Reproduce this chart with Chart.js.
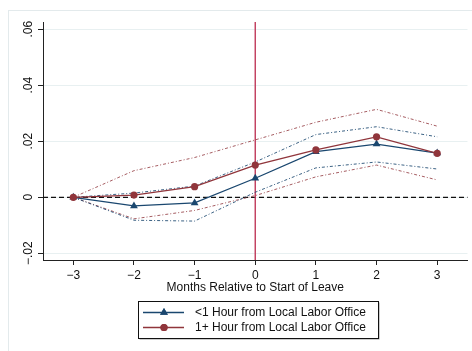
<!DOCTYPE html>
<html>
<head>
<meta charset="utf-8">
<script src="https://cdn.jsdelivr.net/npm/chart.js@4.4.1/dist/chart.umd.min.js"></script>
<style>
  html, body { margin: 0; padding: 0; background: #ffffff; }
  #wrap { width: 472px; height: 351px; position: relative; }
</style>
</head>
<body>
<div id="wrap"><canvas id="eventChart" width="472" height="351"></canvas></div>
<script>
// months relative to start of leave
const months = [-3, -2, -1, 0, 1, 2, 3];

// <1 hour from local labor office (estimate + band)
const nearEst = [0, -0.0031, -0.0020, 0.0068, 0.0163, 0.0190, 0.0158];
const nearHi  = [0,  0.0015,  0.0040, 0.0126, 0.0224, 0.0252, 0.0216];
const nearLo  = [0, -0.0082, -0.0085, 0.0018, 0.0105, 0.0126, 0.0101];

// 1+ hour from local labor office (estimate + band)
const farEst = [0, 0.0008, 0.0038, 0.0115, 0.0169, 0.0216, 0.0157];
const farHi  = [0, 0.0095, 0.0142, 0.0205, 0.0268, 0.0314, 0.0254];
const farLo  = [0, -0.0077, -0.0047, 0.0006, 0.0073, 0.0115, 0.0062];

const seriesLabels = ['<1 Hour from Local Labor Office', '1+ Hour from Local Labor Office'];
const xTicks = [-3, -2, -1, 0, 1, 2, 3];
const yTicks = [-0.02, 0, 0.02, 0.04, 0.06];
const xTitle = 'Months Relative to Start of Leave';

const NAVY = '#1a476f';
const MAROON = '#90353b';
const FONT = "'Liberation Sans', Arial, Helvetica, sans-serif";

function pts(arr) {
    return months.map((m, i) => ({ x: m, y: arr[i] }));
}

function fmtY(v) {
    if (Math.abs(v) < 1e-9) return '0';
    return (v < 0 ? '\u2212' : '') + Math.abs(v).toFixed(2).replace(/^0/, '');
}

// frame, zero line and the x=0 line, drawn under the series
Chart.register({
    id: 'stataBits',
    beforeDraw: (chart) => {
        const c = chart.ctx;
        c.save();
        c.strokeStyle = '#e3eaec';
        c.lineWidth = 1;
        c.strokeRect(8.5, 10.5, 600, 500);
        c.restore();
    },
    beforeDatasetsDraw: (chart) => {
        const c = chart.ctx;
        const a = chart.chartArea;
        const xs = chart.scales.x, ys = chart.scales.y;
        const y0 = ys.getPixelForValue(0);
        const x0 = xs.getPixelForValue(0);
        c.save();
        c.strokeStyle = '#111111';
        c.lineWidth = 1.2;
        c.setLineDash([5, 3]);
        c.beginPath();
        c.moveTo(a.left, y0);
        c.lineTo(a.right, y0);
        c.stroke();
        c.setLineDash([]);
        c.strokeStyle = '#c0395a';
        c.lineWidth = 1.4;
        c.beginPath();
        c.moveTo(x0, a.top);
        c.lineTo(x0, a.bottom);
        c.stroke();
        c.restore();
    },
    afterDraw: (chart) => {
        // legend box
        const c = chart.ctx;
        const bx = 138.5, by = 301.5, bw = 240, bh = 37;
        c.save();
        c.fillStyle = '#9a9a9a';
        c.fillRect(bx + 1, by + 1, bw, bh);
        c.fillStyle = '#ffffff';
        c.fillRect(bx, by, bw, bh);
        c.strokeStyle = '#111111';
        c.lineWidth = 1;
        c.strokeRect(bx, by, bw, bh);
        const rows = [
            { label: seriesLabels[0], color: NAVY, style: 'triangle', r: 4.5, y: 312.5 },
            { label: seriesLabels[1], color: MAROON, style: 'circle', r: 3.6, y: 327.5 }
        ];
        rows.forEach(row => {
            c.strokeStyle = row.color;
            c.lineWidth = 1.3;
            c.beginPath();
            c.moveTo(143, row.y);
            c.lineTo(184, row.y);
            c.stroke();
            c.fillStyle = row.color;
            Chart.helpers.drawPoint(c, { pointStyle: row.style, radius: row.r, borderWidth: 0 }, 164, row.y);
            c.fill();
            c.fillStyle = '#111111';
            c.font = '12px ' + FONT;
            c.textAlign = 'left';
            c.textBaseline = 'middle';
            c.fillText(row.label, 195, row.y + 0.5);
        });
        c.restore();
    }
});

function mainSet(label, arr, color, style, r, order) {
    return {
        label: label,
        data: pts(arr),
        borderColor: color,
        backgroundColor: color,
        borderWidth: 1.3,
        pointStyle: style,
        pointRadius: r,
        pointBorderWidth: 0,
        pointBackgroundColor: color,
        tension: 0,
        order: order
    };
}

function bandSet(arr, color, order) {
    return {
        label: '',
        data: pts(arr),
        borderColor: color,
        borderWidth: 1,
        borderDash: [3, 2, 1, 2],
        pointRadius: 0,
        tension: 0,
        order: order
    };
}

const chart = new Chart(document.getElementById('eventChart').getContext('2d'), {
    type: 'line',
    data: {
        datasets: [
            mainSet(seriesLabels[1], farEst, MAROON, 'circle', 3.6, 0),
            mainSet(seriesLabels[0], nearEst, NAVY, 'triangle', 4.5, 1),
            bandSet(nearHi, 'rgba(26,71,111,0.85)', 2),
            bandSet(nearLo, 'rgba(26,71,111,0.85)', 3),
            bandSet(farHi, 'rgba(144,53,59,0.8)', 4),
            bandSet(farLo, 'rgba(144,53,59,0.8)', 5)
        ]
    },
    options: {
        responsive: false,
        animation: false,
        events: [],
        layout: { padding: { left: 0, right: 1, top: 22, bottom: 0 } },
        plugins: { legend: { display: false }, tooltip: { enabled: false } },
        scales: {
            x: {
                type: 'linear',
                min: -3.5,
                max: 3.5,
                afterBuildTicks: (s) => { s.ticks = xTicks.map(v => ({ value: v })); },
                afterFit: (s) => { s.height = 91; },
                grid: { display: true, drawOnChartArea: false, drawTicks: true, tickLength: 5, tickColor: '#222222', tickWidth: 1 },
                border: { display: true, color: '#222222', width: 1 },
                ticks: {
                    padding: 3,
                    color: '#111111',
                    font: { family: FONT, size: 12 },
                    maxRotation: 0,
                    callback: (v) => (v < 0 ? '\u2212' : '') + Math.abs(v)
                },
                title: {
                    display: true,
                    text: xTitle,
                    color: '#111111',
                    font: { family: FONT, size: 12 },
                    padding: { top: 0, bottom: 56 }
                }
            },
            y: {
                type: 'linear',
                min: -0.0224,
                max: 0.0626,
                afterBuildTicks: (s) => { s.ticks = yTicks.map(v => ({ value: v })); },
                afterFit: (s) => { s.width = 43; },
                grid: { display: true, color: '#e8f0f1', lineWidth: 1, drawTicks: true, tickLength: 5, tickColor: '#222222', tickWidth: 1 },
                border: { display: true, color: '#222222', width: 1 },
                ticks: {
                    padding: -3,
                    color: '#111111',
                    font: { family: FONT, size: 12 },
                    minRotation: 90,
                    maxRotation: 90,
                    crossAlign: 'center',
                    callback: (v) => fmtY(v)
                }
            }
        }
    }
});
</script>
</body>
</html>
